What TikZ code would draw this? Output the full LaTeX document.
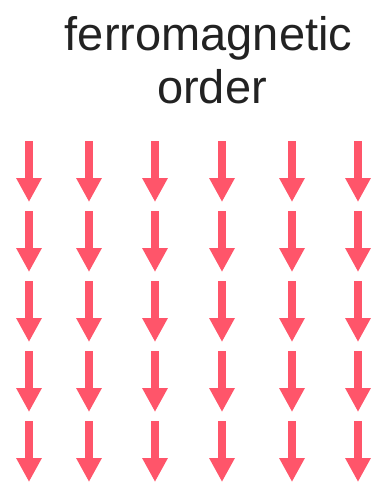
\documentclass[tikz,border=0pt]{standalone}
\usepackage{fontspec}
\setmainfont{Liberation Sans}
\usetikzlibrary{arrows.meta}
\definecolor{spinred}{RGB}{255,85,106}
\definecolor{titlegray}{RGB}{34,34,34}
\begin{document}
\begin{tikzpicture}
            [
                x = 1pt, y = -1pt,
                spin/.style = {draw=spinred, line width=8pt,
                -{Triangle[width=24pt, length=24pt]}},
                label/.style = {anchor=base, inner sep=0pt,
                text=titlegray, font=\fontsize{47}{51}\selectfont}
            ]
            \useasboundingbox (0,0) rectangle (372,485);
            \node[label] (title) at (208.5,50) {ferromagnetic};
            \node[label] (order) at (212,103) {order};
            % spins, all pointing down
            \foreach \x in {29,89,155,222,292,358}
                \foreach \row in {0,...,4}
                    \draw[spin] (\x,141+70*\row) -- (\x,202+70*\row);
        \end{tikzpicture}
\end{document}
